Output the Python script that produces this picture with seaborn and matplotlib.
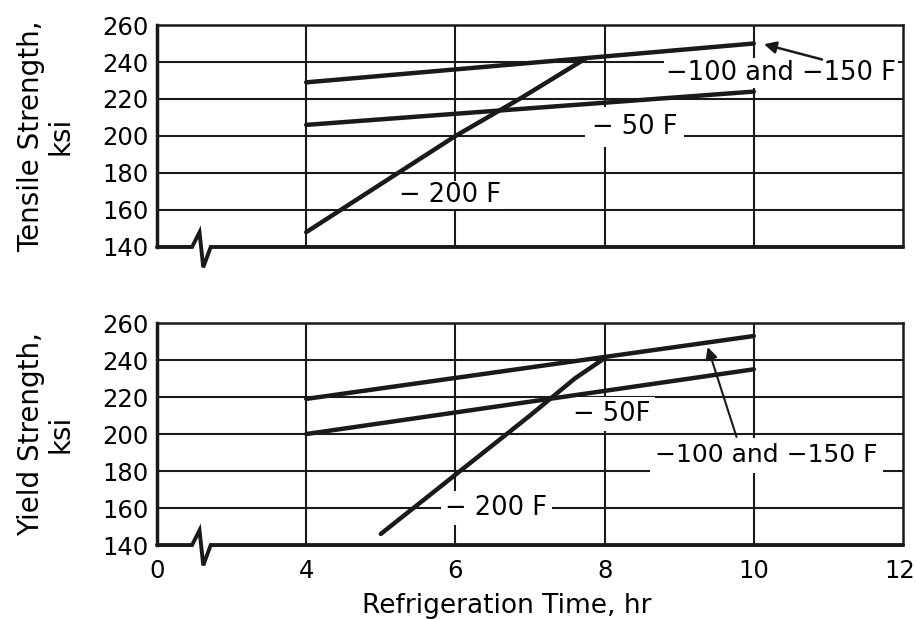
import matplotlib
matplotlib.use("Agg")
import matplotlib.pyplot as plt
import matplotlib.transforms as mtransforms
import seaborn as sns

sns.set_theme(style="white")
plt.rcParams['font.family'] = ['DejaVu Sans']
plt.rcParams['text.color'] = 'black'
plt.rcParams['axes.labelcolor'] = 'black'
plt.rcParams['xtick.color'] = 'black'
plt.rcParams['ytick.color'] = 'black'

# ---- data (hours, ksi) ----
# Tensile strength
ts_100_x = [4, 10]
ts_100_y = [229, 250]
ts_50_x = [4, 10]
ts_50_y = [206, 224]
ts_200_x = [4, 5, 6, 6.9, 7.75]
ts_200_y = [148, 174, 200, 221, 242]
# Yield strength
ys_100_x = [4, 10]
ys_100_y = [219, 253]
ys_50_x = [4, 10]
ys_50_y = [200, 235]
ys_200_x = [5, 6, 7, 7.6, 8]
ys_200_y = [146, 178, 210, 230, 241]

x_ticks = [2, 4, 6, 8, 10, 12]
x_tick_labels = ["0", "4", "6", "8", "10", "12"]
y_ticks = [140, 160, 180, 200, 220, 240, 260]

TFS = 17.5   # tick labels
LFS = 20     # axis labels
AFS = 18.5   # annotations

fig = plt.figure(figsize=(9.16, 6.19), dpi=100)
ax1 = fig.add_axes([0.1714, 0.601, 0.8144, 0.3586])
ax2 = fig.add_axes([0.1714, 0.1195, 0.8144, 0.3586])

def style(ax, ylabel, show_x):
    ax.set_xlim(2, 12)
    ax.set_ylim(140, 260)
    ax.set_yticks(y_ticks)
    ax.set_yticklabels([str(v) for v in y_ticks], fontsize=TFS)
    ax.set_xticks(x_ticks)
    if show_x:
        ax.set_xticklabels(x_tick_labels, fontsize=TFS)
        ax.set_xlabel("Refrigeration Time, hr", fontsize=LFS - 1)
        ax.xaxis.set_label_coords(0.469, -0.215)
    else:
        ax.set_xticklabels([])
        ax.set_xlabel("")
    ax.tick_params(axis='y', length=0, pad=6)
    ax.tick_params(axis='x', length=0, pad=10)
    ax.set_ylabel(ylabel, fontsize=LFS, linespacing=1.05, labelpad=20)
    for x in [4, 6, 8, 10]:
        ax.axvline(x, color='k', lw=1.5, zorder=1)
    for y in [160, 180, 200, 220, 240]:
        ax.axhline(y, color='k', lw=1.5, zorder=1)
    ax.spines['left'].set_linewidth(2.5)
    ax.spines['top'].set_linewidth(1.8)
    ax.spines['right'].set_linewidth(1.8)
    ax.spines['bottom'].set_visible(False)
    for s in ax.spines.values():
        s.set_color('k')
        s.set_zorder(6)
    # broken bottom axis with zigzag
    bx = [2, 2.47, 2.57, 2.62, 2.72, 12]
    by = [140, 140, 148, 129, 140, 140]
    ax.plot(bx, by, color='k', lw=2.8, clip_on=False, zorder=5,
            solid_joinstyle='miter')

def draw(ax, xs, ys):
    sns.lineplot(x=xs, y=ys, ax=ax, color='k', lw=3.2, sort=False,
                 estimator=None, zorder=4)

def box(pad):
    return dict(facecolor='white', edgecolor='none', pad=pad)

style(ax1, "Tensile Strength,\nksi", False)
draw(ax1, ts_100_x, ts_100_y)
draw(ax1, ts_50_x, ts_50_y)
draw(ax1, ts_200_x, ts_200_y)
ax1.text(5.93, 168, "− 200 F", fontsize=AFS, ha='center', va='center', bbox=box(1), zorder=3)
ax1.text(8.4, 205, "− 50 F", fontsize=AFS, ha='center', va='center', bbox=box(5), zorder=3)
ax1.text(10.37, 234, "−100 and −150 F", fontsize=AFS, ha='center', va='center',
         bbox=box(1.5), zorder=3)
ax1.annotate("", xy=(10.1, 250), xytext=(10.95, 241),
             arrowprops=dict(arrowstyle='-|>', color='k', lw=1.8,
                             mutation_scale=18), zorder=6)

style(ax2, "Yield Strength,\nksi", True)
draw(ax2, ys_100_x, ys_100_y)
draw(ax2, ys_50_x, ys_50_y)
draw(ax2, ys_200_x, ys_200_y)
ax2.text(6.55, 160, "− 200 F", fontsize=AFS, ha='center', va='center', bbox=box(3), zorder=3)
ax2.text(8.1, 211, "− 50F", fontsize=AFS, ha='center', va='center', bbox=box(3), zorder=3)
ax2.text(10.17, 188.5, "−100 and −150 F", fontsize=AFS - 0.5, ha='center', va='center',
         bbox=box(4), zorder=3)
ax2.annotate("", xy=(9.37, 248.5), xytext=(9.78, 197),
             arrowprops=dict(arrowstyle='-|>', color='k', lw=1.5,
                             mutation_scale=18), zorder=6)

# keep the last x tick label ("12") inside the canvas
fig.canvas.draw()
last = ax2.get_xticklabels()[-1]
last.set_horizontalalignment('right')
last.set_transform(last.get_transform() +
                   mtransforms.ScaledTranslation(9 / 72, 0, fig.dpi_scale_trans))

fig.savefig("out.png", dpi=100)
